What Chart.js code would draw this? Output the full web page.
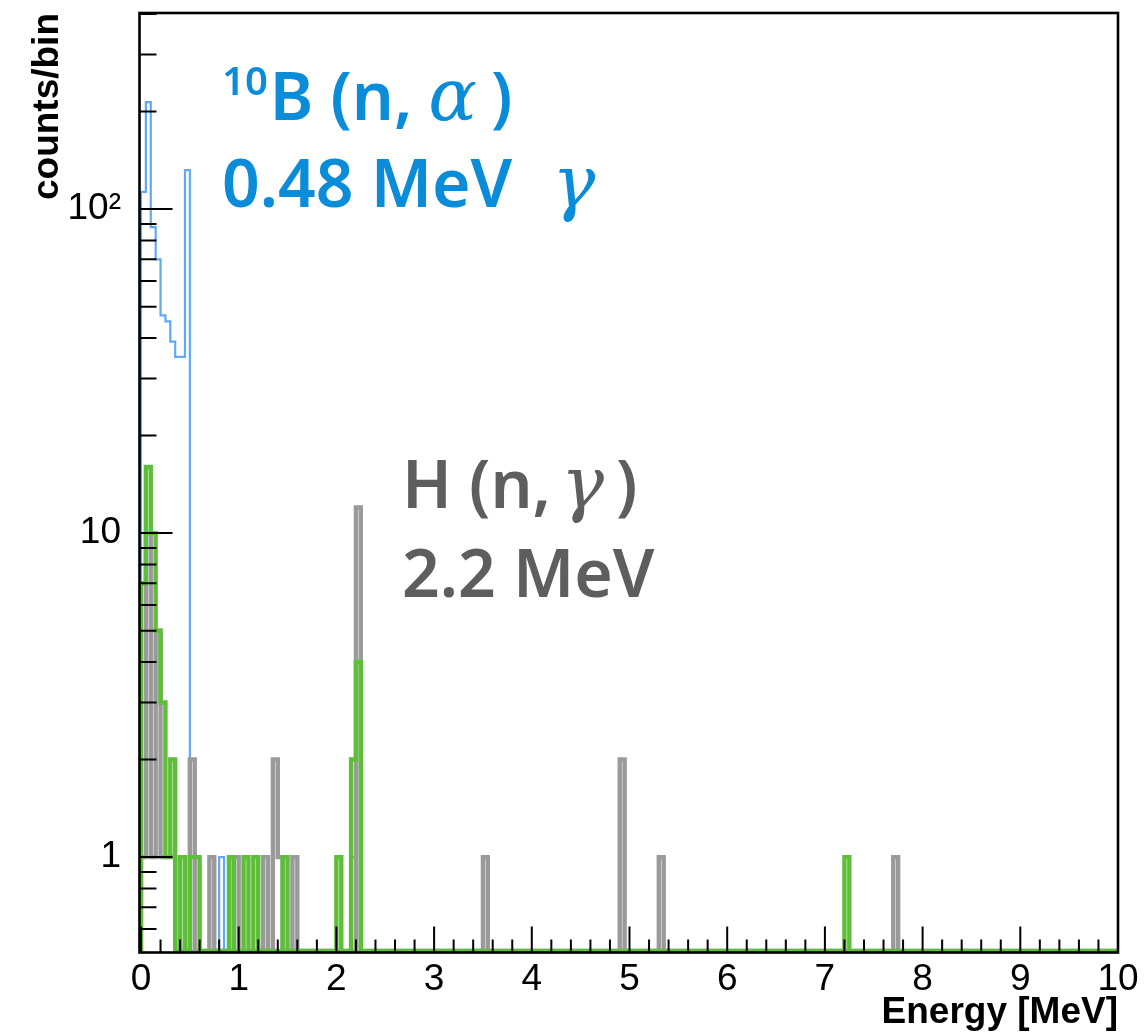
<!DOCTYPE html>
<html>
<head>
<meta charset="utf-8">
<title>Energy spectrum</title>
<script src="https://cdn.jsdelivr.net/npm/chart.js@4.4.1/dist/chart.umd.min.js"></script>
<style>
  html, body { margin: 0; padding: 0; background: #fff; }
  #wrap { width: 1145px; height: 1035px; position: relative; }
</style>
</head>
<body>
<div id="wrap"><canvas id="spectrum" width="1145" height="1035"></canvas></div>
<script>
// histogram binning [MeV] and visible count range
const BIN_WIDTH = 0.05;
const E_MIN = 0;
const E_MAX = 10;
const Y_MIN = 0.513;
const Y_MAX = 403;

// non-empty bins of each histogram: bin low edge [MeV] and counts/bin
const blueEdges  = [0.00, 0.05, 0.10, 0.15, 0.20, 0.25, 0.30, 0.35, 0.40, 0.45, 0.80, 2.15];
const blueCounts = [113, 214, 88, 70, 47, 45, 39, 35, 35, 132, 1, 1];

const grayEdges  = [0.00, 0.05, 0.10, 0.15, 0.20, 0.25, 0.30, 0.50, 0.70, 0.95, 1.25, 1.35, 1.40, 1.55, 2.20, 3.50, 4.90, 5.30, 7.70];
const grayCounts = [1, 10, 1, 5, 1, 1, 1, 2, 1, 1, 1, 2, 1, 1, 12, 1, 2, 1, 1];

const greenEdges  = [0.00, 0.05, 0.10, 0.15, 0.20, 0.25, 0.30, 0.40, 0.50, 0.55, 0.90, 1.05, 1.15, 1.45, 2.00, 2.15, 2.20, 7.20];
const greenCounts = [7, 16, 10, 5, 3, 1, 2, 1, 1, 1, 1, 1, 1, 1, 1, 2, 4, 1];

// axis labels
const xTickValues = [0, 1, 2, 3, 4, 5, 6, 7, 8, 9, 10];
const yTickValues = [1, 10, 100];
const yTickLabels = ['1', '10', '10²'];

// turn sparse bins into the outline points of a stepped histogram
function histogramPoints(edges, counts) {
    const nBins = Math.round((E_MAX - E_MIN) / BIN_WIDTH);
    const filled = new Array(nBins).fill(0);
    edges.forEach((e, i) => {
        filled[Math.round((e - E_MIN) / BIN_WIDTH)] = counts[i];
    });
    const pts = [{ x: E_MIN, y: Y_MIN }];
    filled.forEach((c, i) => {
        pts.push({ x: E_MIN + i * BIN_WIDTH, y: c > 0 ? c : Y_MIN });
    });
    pts.push({ x: E_MAX, y: Y_MIN });
    return pts;
}

// ROOT style frame with inward ticks; the frame sits just outside the plot area
const framePlugin = {
    id: 'frame',
    afterDatasetsDraw(chart) {
        const { ctx, chartArea: a, scales: { x, y } } = chart;
        const left = a.left - 1.5;
        const bottom = a.bottom + 1.5;
        ctx.save();
        ctx.strokeStyle = '#000';
        ctx.lineWidth = 2;
        ctx.beginPath();
        for (let k = 0; k <= 50; k++) {
            const px = x.getPixelForValue(k * 0.2);
            const len = k % 5 === 0 ? 26 : 13;
            ctx.moveTo(px, bottom);
            ctx.lineTo(px, bottom - len);
        }
        [0.1, 1, 10, 100].forEach(d => {
            for (let m = 1; m <= 9; m++) {
                const v = m * d;
                if (v < Y_MIN || v > Y_MAX) continue;
                const py = y.getPixelForValue(v);
                const len = m === 1 ? 33 : 17;
                ctx.moveTo(left, py);
                ctx.lineTo(left + len, py);
            }
        });
        ctx.stroke();
        ctx.lineWidth = 2.6;
        ctx.strokeRect(left, a.top, a.right - left, bottom - a.top);
        ctx.restore();
    }
};

// draws a line of text made of runs with their own font and vertical shift
function drawRuns(ctx, x, baseline, color, runs) {
    ctx.fillStyle = color;
    ctx.textBaseline = 'alphabetic';
    ctx.textAlign = 'left';
    runs.forEach(r => {
        ctx.font = r.font;
        ctx.fillText(r.text, x, baseline + (r.dy || 0));
        x += ctx.measureText(r.text).width + (r.gap || 0);
    });
}

const TEXT_FONT = '600 66px "Noto Sans", "Liberation Sans", sans-serif';
const SUP_FONT = '600 40px "Noto Sans", "Liberation Sans", sans-serif';
const GREEK_FONT = 'italic 72px "DejaVu Serif", "Liberation Serif", serif';

const labelPlugin = {
    id: 'peakLabels',
    afterDraw(chart) {
        const ctx = chart.ctx;
        ctx.save();
        const blue = '#0a8cd8';
        const gray = '#5e5e5e';
        drawRuns(ctx, 222, 120, blue, [
            { text: '10', font: SUP_FONT, dy: -25, gap: 2 },
            { text: 'B (n,', font: TEXT_FONT, gap: 16 },
            { text: 'α', font: GREEK_FONT, gap: 14 },
            { text: ')', font: TEXT_FONT }
        ]);
        drawRuns(ctx, 222, 207, blue, [
            { text: '0.48 MeV', font: TEXT_FONT, gap: 40 },
            { text: 'γ', font: GREEK_FONT }
        ]);
        drawRuns(ctx, 402, 508, gray, [
            { text: 'H (n,', font: TEXT_FONT, gap: 10 },
            { text: 'γ', font: GREEK_FONT, gap: 12 },
            { text: ')', font: TEXT_FONT }
        ]);
        drawRuns(ctx, 402, 597, gray, [
            { text: '2.2 MeV', font: TEXT_FONT }
        ]);
        ctx.restore();
    }
};

const histogramStyle = {
    stepped: true,
    fill: false,
    pointRadius: 0,
    tension: 0,
    clip: { left: 3, top: 0, right: 3, bottom: 3 }
};

const axisFont = { family: '"Liberation Sans", Arial, sans-serif', size: 37 };
const titleFont = { family: '"Liberation Sans", Arial, sans-serif', size: 37, weight: 'bold' };

new Chart(document.getElementById('spectrum').getContext('2d'), {
    type: 'line',
    data: {
        datasets: [
            Object.assign({ label: 'green', data: histogramPoints(greenEdges, greenCounts), borderColor: '#5dbf38', borderWidth: 4.4 }, histogramStyle),
            Object.assign({ label: 'gray', data: histogramPoints(grayEdges, grayCounts), borderColor: '#9a9a9a', borderWidth: 4.4 }, histogramStyle),
            Object.assign({ label: 'blue', data: histogramPoints(blueEdges, blueCounts), borderColor: '#62a9f3', borderWidth: 2.2 }, histogramStyle)
        ]
    },
    options: {
        responsive: false,
        animation: false,
        devicePixelRatio: 1,
        layout: { padding: { top: 13, right: 27, left: 0, bottom: 0 } },
        plugins: {
            legend: { display: false },
            tooltip: { enabled: false }
        },
        scales: {
            x: {
                type: 'linear',
                min: E_MIN,
                max: E_MAX,
                afterBuildTicks: s => { s.ticks = xTickValues.map(v => ({ value: v })); },
                afterFit: s => { s.height = 84; s.paddingLeft = 0; s.paddingRight = 0; },
                ticks: { font: axisFont, color: '#000', padding: 7, maxRotation: 0, autoSkip: false },
                grid: { display: false, drawTicks: false },
                border: { display: false },
                title: { display: true, text: 'Energy [MeV]', align: 'end', font: titleFont, color: '#000', padding: 0 }
            },
            y: {
                type: 'logarithmic',
                min: Y_MIN,
                max: Y_MAX,
                afterBuildTicks: s => { s.ticks = yTickValues.map(v => ({ value: v })); },
                afterFit: s => { s.width = 141; s.paddingTop = 0; s.paddingBottom = 0; },
                ticks: {
                    font: axisFont,
                    color: '#000',
                    padding: 20,
                    callback: v => yTickLabels[yTickValues.indexOf(v)]
                },
                grid: { display: false, drawTicks: false },
                border: { display: false },
                title: { display: true, text: 'counts/bin', align: 'end', font: titleFont, color: '#000', padding: { top: 26, bottom: 0 } }
            }
        }
    },
    plugins: [framePlugin, labelPlugin]
});
</script>
</body>
</html>
